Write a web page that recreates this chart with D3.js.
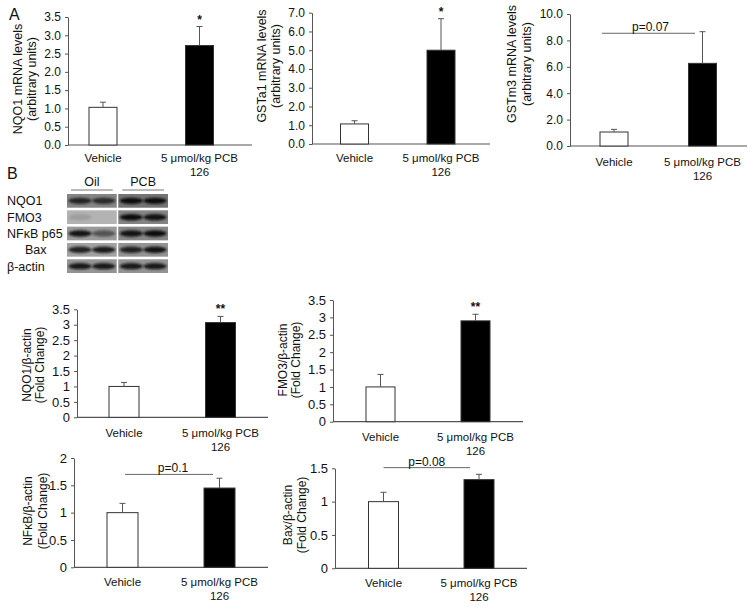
<!DOCTYPE html>
<html><head><meta charset="utf-8">
<script src="https://cdn.jsdelivr.net/npm/d3@7"></script>
<style>
body{margin:0;background:#fff}
text{font-family:Arial,"Liberation Sans",sans-serif;fill:#111}
</style>
</head><body>
<svg id="c" width="754" height="609"></svg>
<script>
// ---------- data ----------
const categories = ["Vehicle", "5 μmol/kg PCB\n126"];

const nqo1mRNA = [1.03, 2.72],   nqo1mRNAErr = [0.14, 0.52];
const gsta1mRNA = [1.07, 5.0],   gsta1mRNAErr = [0.17, 1.68];
const gstm3mRNA = [1.06, 6.26],  gstm3mRNAErr = [0.20, 2.40];
const nqo1Prot = [1.0, 3.07],    nqo1ProtErr = [0.13, 0.20];
const fmo3Prot = [1.0, 2.9],     fmo3ProtErr = [0.36, 0.19];
const nfkbProt = [1.0, 1.45],    nfkbProtErr = [0.17, 0.18];
const baxProt = [1.0, 1.33],     baxProtErr = [0.14, 0.08];

const ticksA1 = [0, 0.5, 1, 1.5, 2, 2.5, 3, 3.5];
const ticksA2 = [0, 1, 2, 3, 4, 5, 6, 7];
const ticksA3 = [0, 2, 4, 6, 8, 10];
const ticksB1 = [0, 0.5, 1, 1.5, 2, 2.5, 3, 3.5];
const ticksB2 = [0, 0.5, 1, 1.5, 2, 2.5, 3, 3.5];
const ticksB3 = [0, 0.5, 1, 1.5, 2];
const ticksB4 = [0, 0.5, 1, 1.5];

const blotRows = ["NQO1", "FMO3", "NFκB p65", "Bax", "β-actin"];
const blotGroups = ["Oil", "PCB"];
// band intensity per row: [oil lane1, oil lane2, pcb lane1, pcb lane2]
const blotIntensity = [
  [0.8, 0.75, 1.0, 1.0],
  [0.12, 0.0, 1.0, 0.95],
  [0.95, 0.5, 0.95, 1.0],
  [0.85, 0.9, 0.85, 0.95],
  [0.9, 0.9, 0.9, 0.9]
];
const blotBg = [
  ["#858585", "#747474"],
  ["#b3b3b3", "#848484"],
  ["#9b9b9b", "#868686"],
  ["#a2a2a2", "#939393"],
  ["#959595", "#939393"]
];

// ---------- drawing ----------
const svg = d3.select("#c");
const AX = "#555";

function panel(cfg) {
  const g = svg.append("g");
  const y = d3.scaleLinear().domain([0, cfg.max]).range([cfg.y0, cfg.yTop]);
  const x = d3.scalePoint().domain(categories).range(cfg.centers);

  const ya = d3.axisLeft(y).tickValues(cfg.ticks).tickFormat(cfg.fmt)
    .tickSize(3).tickSizeOuter(0).tickPadding(4);
  const ag = g.append("g").attr("transform", `translate(${cfg.ax},0)`).call(ya);
  ag.selectAll("path,line").attr("stroke", AX);
  ag.selectAll("text").style("font-size", cfg.tickFs + "px").attr("fill", "#111");

  // x axis baseline
  g.append("line").attr("x1", cfg.ax).attr("x2", cfg.xEnd)
    .attr("y1", y(0)).attr("y2", y(0)).attr("stroke", AX).attr("stroke-width", 1.2);

  // bars
  g.selectAll("rect.bar").data(cfg.values).join("rect")
    .attr("x", (d, i) => x(categories[i]) - cfg.bw / 2)
    .attr("y", d => y(d))
    .attr("width", cfg.bw)
    .attr("height", d => y(0) - y(d))
    .attr("fill", (d, i) => i === 0 ? "#fff" : "#000")
    .attr("stroke", "#333").attr("stroke-width", 1);

  // error bars (upper only)
  cfg.values.forEach((v, i) => {
    const cx = x(categories[i]);
    g.append("line").attr("x1", cx).attr("x2", cx)
      .attr("y1", y(v)).attr("y2", y(v + cfg.errs[i])).attr("stroke", "#555");
    g.append("line").attr("x1", cx - 3).attr("x2", cx + 3)
      .attr("y1", y(v + cfg.errs[i])).attr("y2", y(v + cfg.errs[i])).attr("stroke", "#555");
  });

  // significance
  if (cfg.sig) {
    const i = 1, v = cfg.values[i] + cfg.errs[i];
    g.append("text").attr("x", x(categories[i])).attr("y", y(v) - 3)
      .attr("text-anchor", "middle").style("font-size", "12px").style("font-weight", "bold")
      .text(cfg.sig);
  }
  if (cfg.p) {
    const x1 = x(categories[0]) + cfg.p.dx1, x2 = x(categories[1]) + cfg.p.dx2;
    g.append("line").attr("x1", x1).attr("x2", x2)
      .attr("y1", y(cfg.p.v)).attr("y2", y(cfg.p.v)).attr("stroke", "#666");
    g.append("text").attr("x", (x1 + x2) / 2 + cfg.p.tdx).attr("y", y(cfg.p.v) - 2)
      .attr("text-anchor", "middle").style("font-size", "12px").text(cfg.p.label);
  }

  // category labels
  categories.forEach((c, i) => {
    const t = g.append("text").attr("x", x(c)).attr("y", cfg.labY)
      .attr("text-anchor", "middle").style("font-size", "11.5px");
    c.split("\n").forEach((ln, k) => {
      t.append("tspan").attr("x", x(c)).attr("dy", k === 0 ? 0 : 13.5).text(ln);
    });
  });

  // y label
  cfg.ylab.forEach((ln, k) => {
    g.append("text")
      .attr("transform", `translate(${cfg.ylabX[k]},${cfg.ylabY}) rotate(-90)`)
      .attr("text-anchor", "middle").attr("dy", "0.35em")
      .style("font-size", cfg.ylabFs + "px").text(ln);
  });
}

const f1 = d3.format(".1f"), fd = d3.format("");

panel({ ax: 68, xEnd: 252, y0: 145, yTop: 17, centers: [103, 199.5], bw: 28,
  max: 3.5, ticks: ticksA1, fmt: f1, tickFs: 12, values: nqo1mRNA, errs: nqo1mRNAErr,
  sig: "*", labY: 162, ylab: ["NQO1 mRNA levels", "(arbitrary units)"], ylabX: [18, 32], ylabY: 79, ylabFs: 12.5 });

panel({ ax: 312, xEnd: 490, y0: 144, yTop: 12.7, centers: [354.5, 441], bw: 28,
  max: 7, ticks: ticksA2, fmt: f1, tickFs: 12, values: gsta1mRNA, errs: gsta1mRNAErr,
  sig: "*", labY: 162, ylab: ["GSTa1 mRNA levels", "(arbitrary units)"], ylabX: [262, 276], ylabY: 66, ylabFs: 12.5 });

panel({ ax: 570, xEnd: 747, y0: 146, yTop: 14, centers: [614, 702.5], bw: 28,
  max: 10, ticks: ticksA3, fmt: f1, tickFs: 12, values: gstm3mRNA, errs: gstm3mRNAErr,
  p: { v: 8.54, dx1: -12, dx2: -7.5, label: "p=0.07", tdx: 2 },
  labY: 166, ylab: ["GSTm3 mRNA levels", "(arbitrary units)"], ylabX: [512, 527], ylabY: 64, ylabFs: 12.5 });

panel({ ax: 77, xEnd: 268, y0: 417.3, yTop: 309.3, centers: [124, 220.5], bw: 30,
  max: 3.5, ticks: ticksB1, fmt: fd, tickFs: 13, values: nqo1Prot, errs: nqo1ProtErr,
  sig: "**", labY: 437, ylab: ["NQO1/β-actin", "(Fold Change)"], ylabX: [27, 40], ylabY: 365, ylabFs: 12 });

panel({ ax: 333, xEnd: 523, y0: 421.7, yTop: 300, centers: [380.5, 475.5], bw: 29,
  max: 3.5, ticks: ticksB2, fmt: fd, tickFs: 13, values: fmo3Prot, errs: fmo3ProtErr,
  sig: "**", labY: 441, ylab: ["FMO3/β-actin", "(Fold Change)"], ylabX: [283, 296], ylabY: 360, ylabFs: 12 });

panel({ ax: 74, xEnd: 268, y0: 567.3, yTop: 458, centers: [122.5, 219.5], bw: 31,
  max: 2, ticks: ticksB3, fmt: fd, tickFs: 13, values: nfkbProt, errs: nfkbProtErr,
  p: { v: 1.70, dx1: 2.5, dx2: -6.5, label: "p=0.1", tdx: 4 },
  labY: 586, ylab: ["NFκB/β-actin", "(Fold Change)"], ylabX: [28, 43], ylabY: 511, ylabFs: 12 });

panel({ ax: 335, xEnd: 527, y0: 568.3, yTop: 468.3, centers: [383.5, 479], bw: 30,
  max: 1.5, ticks: ticksB4, fmt: fd, tickFs: 13, values: baxProt, errs: baxProtErr,
  p: { v: 1.51, dx1: 0, dx2: -9, label: "p=0.08", tdx: 0 },
  labY: 587, ylab: ["Bax/β-actin", "(Fold Change)"], ylabX: [288, 302], ylabY: 515, ylabFs: 12 });

// panel letters
svg.append("text").attr("x", 9).attr("y", 20).style("font-size", "16px").text("A");
svg.append("text").attr("x", 7).attr("y", 179).style("font-size", "16px").text("B");

// ---------- western blot ----------
const defs = svg.append("defs");
defs.append("filter").attr("id", "blur").attr("x", "-30%").attr("y", "-100%")
  .attr("width", "160%").attr("height", "300%")
  .append("feGaussianBlur").attr("stdDeviation", "1.3 0.9");

const rowY = d3.scaleBand().domain(blotRows).range([194, 273]).paddingInner(0.16);
const blockX = d3.scaleBand().domain(blotGroups).range([67, 168]).paddingInner(0.03);
const laneX = d3.scaleBand().domain([0, 1]).range([0, blockX.bandwidth()]).padding(0.1);
const labelX = [7, 7, 7, 25, 7];

blotGroups.forEach((grp, gi) => {
  const cx = blockX(grp) + blockX.bandwidth() / 2;
  svg.append("text").attr("x", cx).attr("y", 186).attr("text-anchor", "middle")
    .style("font-size", "12.5px").text(grp);
  svg.append("line").attr("x1", blockX(grp) + 4).attr("x2", blockX(grp) + blockX.bandwidth() - 4)
    .attr("y1", 190).attr("y2", 190).attr("stroke", "#777");
});

blotRows.forEach((r, ri) => {
  svg.append("text").attr("x", labelX[ri]).attr("y", rowY(r) + rowY.bandwidth() / 2)
    .attr("dy", "0.35em").style("font-size", "12.5px").text(r);
  blotGroups.forEach((grp, gi) => {
    svg.append("rect").attr("x", blockX(grp)).attr("y", rowY(r))
      .attr("width", blockX.bandwidth()).attr("height", rowY.bandwidth())
      .attr("fill", blotBg[ri][gi]);
    [0, 1].forEach(l => {
      const a = blotIntensity[ri][gi * 2 + l];
      if (a <= 0) return;
      svg.append("ellipse")
        .attr("cx", blockX(grp) + laneX(l) + laneX.bandwidth() / 2)
        .attr("cy", rowY(r) + rowY.bandwidth() / 2)
        .attr("rx", laneX.bandwidth() / 2 + 1).attr("ry", 3.2)
        .attr("fill", "#101010").attr("opacity", a).attr("filter", "url(#blur)");
    });
  });
});
</script>
</body></html>
